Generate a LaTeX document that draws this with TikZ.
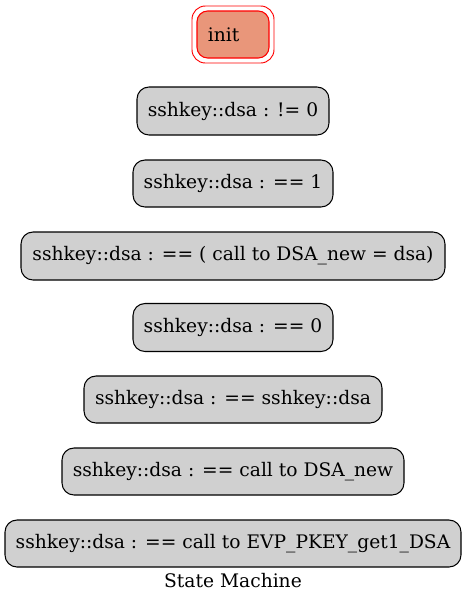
\documentclass[tikz,border=0pt]{standalone}
\usepackage{fontspec}
\setmainfont{DejaVu Serif}
\definecolor{nodefill}{RGB}{208,208,208}
\definecolor{initfill}{RGB}{233,150,122}
\begin{document}
\begin{tikzpicture}[x=0.75pt,y=-0.75pt,
  state/.style={draw=black,fill=nodefill,rounded corners=9pt,line width=0.8pt,
    inner sep=0pt,font=\fontsize{14}{16}\selectfont},
  initstate/.style={draw=red,fill=initfill,rounded corners=8pt,line width=0.8pt,
    inner sep=0pt,font=\fontsize{14}{16}\selectfont},
  caption/.style={font=\fontsize{14}{16}\selectfont,inner sep=0pt}]
\useasboundingbox (0,0) rectangle (467,604);
% init double border
\draw[red,line width=0.7pt,rounded corners=10pt] (192,6) rectangle (274,63);
\node[initstate,minimum width=72*0.75pt,minimum height=47*0.75pt] (init) at (233,34.5) {\hspace*{-14pt}init};
\node[state,minimum width=192*0.75pt,minimum height=48*0.75pt] (n1) at (233,111) {sshkey::dsa : != 0};
\node[state,minimum width=200*0.75pt,minimum height=47*0.75pt] (n2) at (233,183.5) {sshkey::dsa : == 1};
\node[state,minimum width=424*0.75pt,minimum height=48*0.75pt] (n3) at (233,256) {sshkey::dsa : == ( call to DSA\_new = dsa)};
\node[state,minimum width=200*0.75pt,minimum height=48*0.75pt] (n4) at (233,327.5) {sshkey::dsa : == 0};
\node[state,minimum width=298*0.75pt,minimum height=47*0.75pt] (n5) at (233,399.5) {sshkey::dsa : == sshkey::dsa};
\node[state,minimum width=342*0.75pt,minimum height=47*0.75pt] (n6) at (233,471.5) {sshkey::dsa : == call to DSA\_new};
\node[state,minimum width=456*0.75pt,minimum height=47*0.75pt] (n7) at (233,543.5) {sshkey::dsa : == call to EVP\_PKEY\_get1\_DSA};
\node[caption] (cap) at (233,581) {State Machine};
\end{tikzpicture}
\end{document}
